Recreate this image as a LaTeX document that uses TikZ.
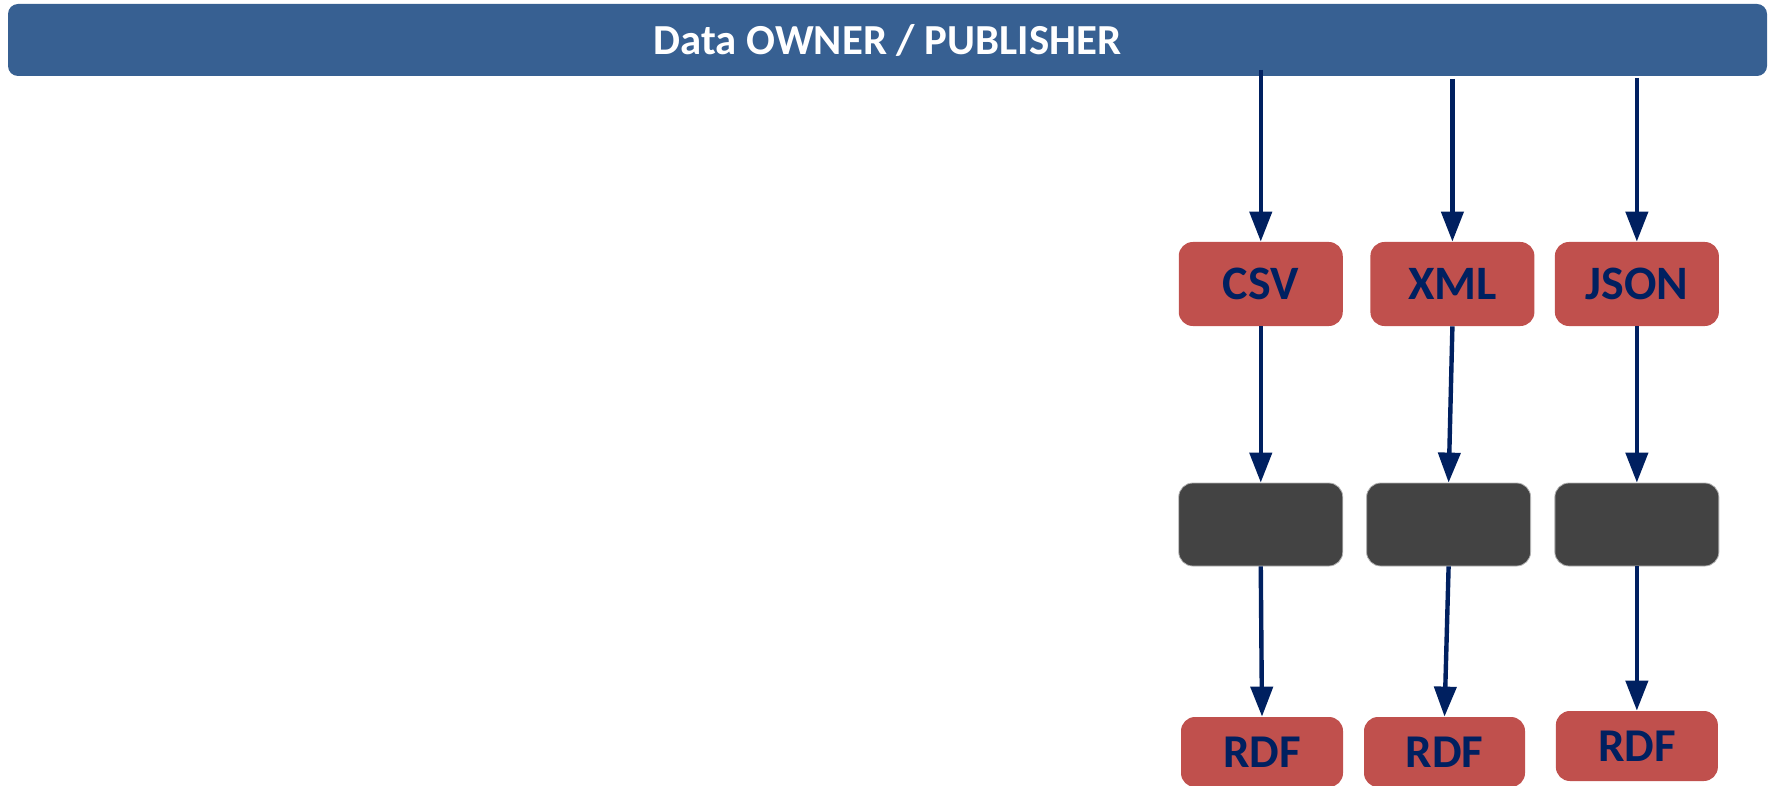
\documentclass[tikz,border=0pt]{standalone}
\usepackage{fontspec}
\setmainfont{Carlito}
\usetikzlibrary{arrows.meta}
\definecolor{barblue}{HTML}{376092}
\definecolor{boxred}{HTML}{C0504D}
\definecolor{boxdark}{HTML}{434343}
\definecolor{navy}{HTML}{002060}
\begin{document}
\begin{tikzpicture}[x=0.5pt,y=-0.5pt,
  bar/.style={fill=barblue, rounded corners=5pt, minimum width=879.5pt, minimum height=36pt, inner sep=0pt, text=white, font=\bfseries\fontsize{21.4}{25}\selectfont},
  fmt/.style={fill=boxred, rounded corners=7pt, minimum width=82pt, minimum height=42pt, inner sep=0pt, text=navy, font=\bfseries\fontsize{24}{28}\selectfont},
  proc/.style={fill=boxdark, draw=gray!60, line width=0.4pt, rounded corners=7pt, minimum width=82pt, minimum height=41.5pt, inner sep=0pt},
  rdf/.style={fill=boxred, rounded corners=7pt, minimum width=81pt, minimum height=35pt, inner sep=0pt, text=navy, font=\bfseries\fontsize{23.5}{27}\selectfont},
  flow/.style={draw=navy, line width=2.2pt, -{Triangle[length=15pt,width=11pt]}}
]
\useasboundingbox (0,0) rectangle (1776,786);
\node[bar] (owner) at (887.5,40) {Data OWNER / PUBLISHER};
\node[fmt] (csv) at (1260.75,284) {CSV};
\node[fmt] (xml) at (1452.4,284) {XML};
\node[fmt] (json) at (1636.85,284) {JSON};
\node[proc] (p1) at (1260.75,524.5) {};
\node[proc] (p2) at (1448.6,524.5) {};
\node[proc] (p3) at (1636.85,524.5) {};
\node[rdf] (r1) at (1262,752) {RDF};
\node[rdf, minimum width=80.5pt] (r2) at (1444.5,752) {RDF};
\node[rdf] (r3) at (1636.85,746) {RDF};
\coordinate (s1) at (1260.75,70);
\coordinate (s2) at (1452.4,79);
\coordinate (s3) at (1636.85,78);
\draw[flow] (s1) -- (csv.north);
\draw[flow] (s2) -- (xml.north);
\draw[flow] (s3) -- (json.north);
\draw[flow] (csv.south) -- (p1.north);
\draw[flow] (xml.south) -- (p2.north);
\draw[flow] (json.south) -- (p3.north);
\draw[flow] (p1.south) -- (r1.north);
\draw[flow] (p2.south) -- (r2.north);
\draw[flow] (p3.south) -- (r3.north);
\end{tikzpicture}
\end{document}
